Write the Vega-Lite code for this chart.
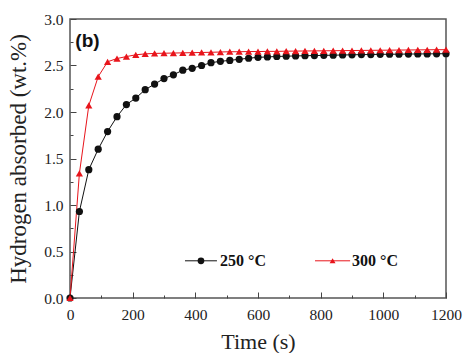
{
  "$schema": "https://vega.github.io/schema/vega-lite/v6.json",
  "width": 376,
  "height": 279,
  "autosize": "none",
  "padding": {"left": 70, "top": 19, "right": 18, "bottom": 55},
  "background": "white",
  "config": {
    "view": {"stroke": "#555555", "strokeWidth": 1.5},
    "font": "Liberation Serif"
  },
  "data": {
    "values": [
      {"t": 0, "h": 0, "s": "250 °C"},
      {"t": 30, "h": 0.93, "s": "250 °C"},
      {"t": 60, "h": 1.38, "s": "250 °C"},
      {"t": 90, "h": 1.6, "s": "250 °C"},
      {"t": 120, "h": 1.79, "s": "250 °C"},
      {"t": 150, "h": 1.95, "s": "250 °C"},
      {"t": 180, "h": 2.08, "s": "250 °C"},
      {"t": 210, "h": 2.15, "s": "250 °C"},
      {"t": 240, "h": 2.24, "s": "250 °C"},
      {"t": 270, "h": 2.3, "s": "250 °C"},
      {"t": 300, "h": 2.36, "s": "250 °C"},
      {"t": 330, "h": 2.4, "s": "250 °C"},
      {"t": 360, "h": 2.45, "s": "250 °C"},
      {"t": 390, "h": 2.47, "s": "250 °C"},
      {"t": 420, "h": 2.5, "s": "250 °C"},
      {"t": 450, "h": 2.53, "s": "250 °C"},
      {"t": 480, "h": 2.545, "s": "250 °C"},
      {"t": 510, "h": 2.555, "s": "250 °C"},
      {"t": 540, "h": 2.567, "s": "250 °C"},
      {"t": 570, "h": 2.578, "s": "250 °C"},
      {"t": 600, "h": 2.588, "s": "250 °C"},
      {"t": 630, "h": 2.592, "s": "250 °C"},
      {"t": 660, "h": 2.597, "s": "250 °C"},
      {"t": 690, "h": 2.6, "s": "250 °C"},
      {"t": 720, "h": 2.603, "s": "250 °C"},
      {"t": 750, "h": 2.605, "s": "250 °C"},
      {"t": 780, "h": 2.607, "s": "250 °C"},
      {"t": 810, "h": 2.609, "s": "250 °C"},
      {"t": 840, "h": 2.611, "s": "250 °C"},
      {"t": 870, "h": 2.613, "s": "250 °C"},
      {"t": 900, "h": 2.615, "s": "250 °C"},
      {"t": 930, "h": 2.617, "s": "250 °C"},
      {"t": 960, "h": 2.618, "s": "250 °C"},
      {"t": 990, "h": 2.62, "s": "250 °C"},
      {"t": 1020, "h": 2.621, "s": "250 °C"},
      {"t": 1050, "h": 2.622, "s": "250 °C"},
      {"t": 1080, "h": 2.623, "s": "250 °C"},
      {"t": 1110, "h": 2.624, "s": "250 °C"},
      {"t": 1140, "h": 2.625, "s": "250 °C"},
      {"t": 1170, "h": 2.626, "s": "250 °C"},
      {"t": 1200, "h": 2.627, "s": "250 °C"},
      {"t": 0, "h": 0, "s": "300 °C"},
      {"t": 30, "h": 1.34, "s": "300 °C"},
      {"t": 60, "h": 2.07, "s": "300 °C"},
      {"t": 90, "h": 2.38, "s": "300 °C"},
      {"t": 120, "h": 2.54, "s": "300 °C"},
      {"t": 150, "h": 2.575, "s": "300 °C"},
      {"t": 180, "h": 2.596, "s": "300 °C"},
      {"t": 210, "h": 2.615, "s": "300 °C"},
      {"t": 240, "h": 2.625, "s": "300 °C"},
      {"t": 270, "h": 2.63, "s": "300 °C"},
      {"t": 300, "h": 2.632, "s": "300 °C"},
      {"t": 330, "h": 2.634, "s": "300 °C"},
      {"t": 360, "h": 2.636, "s": "300 °C"},
      {"t": 390, "h": 2.638, "s": "300 °C"},
      {"t": 420, "h": 2.64, "s": "300 °C"},
      {"t": 450, "h": 2.642, "s": "300 °C"},
      {"t": 480, "h": 2.645, "s": "300 °C"},
      {"t": 510, "h": 2.648, "s": "300 °C"},
      {"t": 540, "h": 2.648, "s": "300 °C"},
      {"t": 570, "h": 2.65, "s": "300 °C"},
      {"t": 600, "h": 2.65, "s": "300 °C"},
      {"t": 630, "h": 2.652, "s": "300 °C"},
      {"t": 660, "h": 2.652, "s": "300 °C"},
      {"t": 690, "h": 2.654, "s": "300 °C"},
      {"t": 720, "h": 2.655, "s": "300 °C"},
      {"t": 750, "h": 2.656, "s": "300 °C"},
      {"t": 780, "h": 2.657, "s": "300 °C"},
      {"t": 810, "h": 2.658, "s": "300 °C"},
      {"t": 840, "h": 2.659, "s": "300 °C"},
      {"t": 870, "h": 2.66, "s": "300 °C"},
      {"t": 900, "h": 2.661, "s": "300 °C"},
      {"t": 930, "h": 2.662, "s": "300 °C"},
      {"t": 960, "h": 2.663, "s": "300 °C"},
      {"t": 990, "h": 2.664, "s": "300 °C"},
      {"t": 1020, "h": 2.665, "s": "300 °C"},
      {"t": 1050, "h": 2.666, "s": "300 °C"},
      {"t": 1080, "h": 2.667, "s": "300 °C"},
      {"t": 1110, "h": 2.668, "s": "300 °C"},
      {"t": 1140, "h": 2.669, "s": "300 °C"},
      {"t": 1170, "h": 2.67, "s": "300 °C"},
      {"t": 1200, "h": 2.67, "s": "300 °C"}
    ]
  },
  "encoding": {
    "x": {
      "field": "t",
      "type": "quantitative",
      "scale": {"domain": [0, 1200], "nice": false, "zero": false},
      "axis": {
        "title": "Time (s)",
        "values": [0, 100, 200, 300, 400, 500, 600, 700, 800, 900, 1000, 1100, 1200],
        "labelExpr": "datum.value % 200 === 0 ? datum.label : ''",
        "format": "d",
        "grid": false,
        "domain": false,
        "tickColor": "#444444",
        "tickWidth": 1,
        "tickSize": {"condition": {"test": "datum.value % 200 === 0", "value": -6}, "value": -3},
        "labelFont": "Liberation Serif",
        "labelFontSize": 15.5,
        "labelColor": "#222222",
        "labelPadding": 15,
        "labelFlush": false,
        "titleFont": "Liberation Serif",
        "titleFontSize": 22,
        "titleFontWeight": "normal",
        "titleColor": "#222222",
        "titlePadding": 9
      }
    },
    "y": {
      "field": "h",
      "type": "quantitative",
      "scale": {"domain": [0, 3], "nice": false},
      "axis": {
        "title": "Hydrogen absorbed (wt.%)",
        "values": [0, 0.25, 0.5, 0.75, 1, 1.25, 1.5, 1.75, 2, 2.25, 2.5, 2.75, 3],
        "labelExpr": "datum.value % 0.5 === 0 ? format(datum.value, '.1f') : ''",
        "grid": false,
        "domain": false,
        "tickColor": "#444444",
        "tickWidth": 1,
        "tickSize": {"condition": {"test": "datum.value % 0.5 === 0", "value": -6}, "value": -3},
        "labelFont": "Liberation Serif",
        "labelFontSize": 15.5,
        "labelColor": "#222222",
        "labelPadding": 13,
        "labelFlush": false,
        "titleFont": "Liberation Serif",
        "titleFontSize": 23,
        "titleFontWeight": "normal",
        "titleColor": "#222222",
        "titlePadding": 13
      }
    }
  },
  "layer": [
    {
      "mark": {"type": "line", "strokeWidth": 1},
      "encoding": {
        "color": {
          "field": "s",
          "type": "nominal",
          "scale": {"domain": ["250 °C", "300 °C"], "range": ["#111111", "#e8141b"]},
          "legend": null
        }
      }
    },
    {
      "mark": {"type": "point", "filled": true, "size": 52, "opacity": 1},
      "encoding": {
        "color": {
          "field": "s",
          "type": "nominal",
          "scale": {"domain": ["250 °C", "300 °C"], "range": ["#111111", "#e8141b"]},
          "legend": null
        },
        "shape": {
          "field": "s",
          "type": "nominal",
          "scale": {"domain": ["250 °C", "300 °C"], "range": ["circle", "triangle-up"]},
          "legend": null
        }
      }
    },
    {
      "transform": [{"filter": "datum.t === 0 && datum.s === '250 °C'"}],
      "mark": {"type": "rule", "strokeWidth": 1, "color": "#111111"},
      "encoding": {"x": {"datum": 367}, "x2": {"datum": 469}, "y": {"datum": 0.4}}
    },
    {
      "transform": [{"filter": "datum.t === 0 && datum.s === '250 °C'"}],
      "mark": {"type": "point", "filled": true, "size": 45, "opacity": 1, "shape": "circle", "color": "#111111"},
      "encoding": {"x": {"datum": 418}, "y": {"datum": 0.4}}
    },
    {
      "transform": [{"filter": "datum.t === 0 && datum.s === '250 °C'"}],
      "mark": {"type": "text", "font": "Liberation Serif", "fontWeight": "bold", "fontSize": 16, "align": "left", "baseline": "middle", "color": "#111111"},
      "encoding": {"x": {"datum": 479}, "y": {"datum": 0.4}, "text": {"value": "250 °C"}}
    },
    {
      "transform": [{"filter": "datum.t === 0 && datum.s === '300 °C'"}],
      "mark": {"type": "rule", "strokeWidth": 1, "color": "#e8141b"},
      "encoding": {"x": {"datum": 782}, "x2": {"datum": 894}, "y": {"datum": 0.4}}
    },
    {
      "transform": [{"filter": "datum.t === 0 && datum.s === '300 °C'"}],
      "mark": {"type": "point", "filled": true, "size": 35, "opacity": 1, "shape": "triangle-up", "color": "#e8141b"},
      "encoding": {"x": {"datum": 838}, "y": {"datum": 0.4}}
    },
    {
      "transform": [{"filter": "datum.t === 0 && datum.s === '300 °C'"}],
      "mark": {"type": "text", "font": "Liberation Serif", "fontWeight": "bold", "fontSize": 16, "align": "left", "baseline": "middle", "color": "#111111"},
      "encoding": {"x": {"datum": 900}, "y": {"datum": 0.4}, "text": {"value": "300 °C"}}
    },
    {
      "transform": [{"filter": "datum.t === 0 && datum.s === '250 °C'"}],
      "mark": {"type": "text", "font": "Liberation Sans", "fontWeight": "bold", "fontSize": 19, "align": "left", "baseline": "middle", "color": "#111111"},
      "encoding": {"x": {"datum": 17}, "y": {"datum": 2.76}, "text": {"value": "(b)"}}
    }
  ]
}
